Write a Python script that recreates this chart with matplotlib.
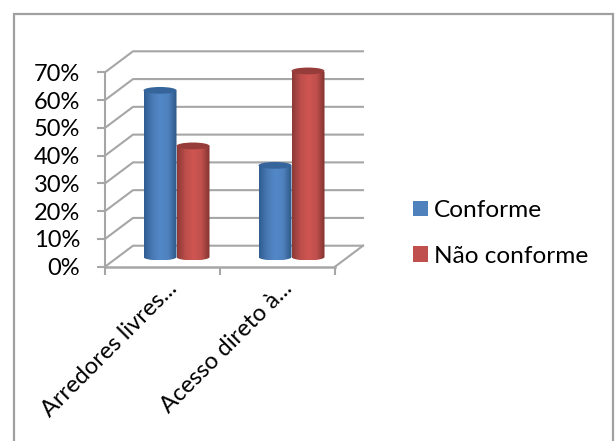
import numpy as np
import matplotlib
matplotlib.use("Agg")
import matplotlib.pyplot as plt
from matplotlib.colors import LinearSegmentedColormap
from matplotlib.patches import Ellipse, PathPatch, Patch, Rectangle
from matplotlib.path import Path
from matplotlib.transforms import ScaledTranslation

categories = ["Arredores livres...", "Acesso direto à..."]
series_names = ["Conforme", "Não conforme"]
conforme = [60, 33]
nao_conforme = [40, 67]
y_ticks = [0, 10, 20, 30, 40, 50, 60, 70]
y_labels = ["0%", "10%", "20%", "30%", "40%", "50%", "60%", "70%"]

plt.rcParams["font.family"] = ["Lato", "DejaVu Sans"]
W, H = 615, 441
fig = plt.figure(figsize=(W / 100, H / 100), dpi=100, facecolor="white")

fig.add_artist(Rectangle((13.5 / W, -0.02), (613 - 13.5) / W, 1.02 - 14.5 / H,
                         transform=fig.transFigure, fill=False, ec="#a0a0a0", lw=1.6))

L, R, T, B = 105, 335, 72.3, 266.7
ax = fig.add_axes([L / W, 1 - B / H, (R - L) / W, (B - T) / H])
ax.set_facecolor("none")
px_x = (R - L) / 2
px_y = (B - T) / 70
DX, DY = 28 / px_x, 21 / px_y      # depth of the back wall
MX, MY = 14 / px_x, 9.7 / px_y     # bar centre plane
GRID = "#a6a6a6"

for v in y_ticks:
    ax.plot([-0.5, -0.5 + DX, 1.5 + DX], [v, v + DY, v + DY],
            color=GRID, lw=1.5, clip_on=False, zorder=1)
ax.plot([1.5, 1.5 + DX], [0, DY], color=GRID, lw=1.5, clip_on=False, zorder=1)
ax.plot([-0.5, 1.5], [0, 0], color=GRID, lw=1.8, clip_on=False, zorder=1)
ax.plot([-0.5, -0.5], [0, 70], color=GRID, lw=1.5, clip_on=False, zorder=1)

blue = LinearSegmentedColormap.from_list("b", ["#2f5d92", "#4a7ab4", "#5288c8", "#4f81bd", "#2c5787"])
red = LinearSegmentedColormap.from_list("r", ["#8c3a38", "#bb4d4a", "#cf5552", "#c0504d", "#823331"])
bw = 33 / px_x
ry = 3.4 / px_y
grad = np.linspace(0, 1, 64).reshape(1, -1)


def cylinder(xc, val, cmap, top):
    x0, x1 = xc - bw / 2, xc + bw / 2
    y0, y1 = val + MY, MY
    k = 0.55
    verts = [(x0, y0), (x0, y1),
             (x0, y1 - k * ry), (xc - k * bw / 2, y1 - ry), (xc, y1 - ry),
             (xc + k * bw / 2, y1 - ry), (x1, y1 - k * ry), (x1, y1),
             (x1, y0), (x0, y0)]
    codes = [Path.MOVETO, Path.LINETO, Path.CURVE4, Path.CURVE4, Path.CURVE4,
             Path.CURVE4, Path.CURVE4, Path.CURVE4, Path.LINETO, Path.CLOSEPOLY]
    im = ax.imshow(grad, extent=[x0, x1, y1 - ry, y0], cmap=cmap, aspect="auto", zorder=3)
    clip = PathPatch(Path(verts, codes), transform=ax.transData, fc="none", ec="none")
    ax.add_patch(clip)
    im.set_clip_path(clip)
    ax.add_patch(Ellipse((xc, y0), bw, 2 * ry, fc=top, ec="none", zorder=4, clip_on=False))


for i in range(len(categories)):
    cylinder(i - bw / 2 + MX, conforme[i], blue, "#36659c")
    cylinder(i + bw / 2 + MX, nao_conforme[i], red, "#963d3b")

ax.set_xlim(-0.5, 1.5)
ax.set_ylim(0, 70)
for s in ax.spines.values():
    s.set_visible(False)
ax.set_yticks(y_ticks, y_labels)
ax.set_xticks([-0.5, 0.5, 1.5], minor=True)
ax.set_xticks([0, 1], categories)
ax.tick_params(axis="y", length=5.8, width=1.5, color=GRID, labelsize=17, pad=12, labelcolor="black")
ax.tick_params(axis="x", which="minor", length=5.8, width=1.5, color=GRID)
ax.tick_params(axis="x", which="major", length=0, labelsize=17, pad=8, labelcolor="black")
shift = ScaledTranslation(3 / 72, 0, fig.dpi_scale_trans)
for t in ax.get_xticklabels():
    t.set_rotation(45)
    t.set_ha("right")
    t.set_va("top")
    t.set_rotation_mode("anchor")
    t.set_transform(t.get_transform() + shift)

handles = [Patch(fc="#4f81bd"), Patch(fc="#c0504d")]
fig.legend(handles, series_names, loc="center left", bbox_to_anchor=(413 / W, 1 - 233.5 / H),
           frameon=False, fontsize=17.6, handlelength=0.61, handleheight=0.61,
           handletextpad=0.26, labelspacing=1.01, borderpad=0, borderaxespad=0)

fig.savefig("out.png", dpi=100)
